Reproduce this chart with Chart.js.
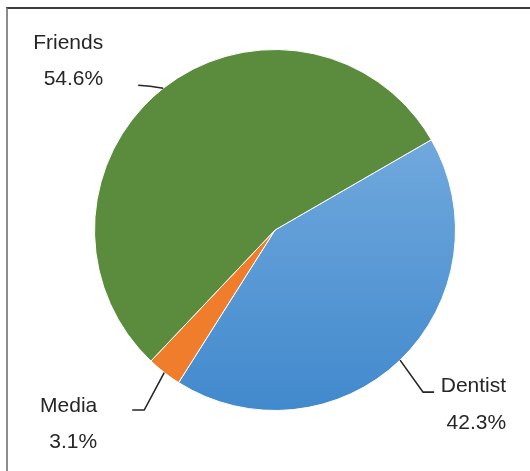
<!DOCTYPE html>
<html>
<head>
<meta charset="utf-8">
<script src="https://cdn.jsdelivr.net/npm/chart.js@4.4.0/dist/chart.umd.min.js"></script>
<style>
  html, body { margin: 0; padding: 0; background: #fff; }
  #wrap { position: relative; width: 530px; height: 471px; overflow: hidden; }
  #frame { position: absolute; left: 6px; top: 7px; width: 540px; height: 480px;
           border-top: 2px solid #3c3c3c; border-left: 2px solid #8c8c8c; box-sizing: border-box; }
  canvas { position: absolute; left: 0; top: 0; }
</style>
</head>
<body>
<div id="wrap">
  <div id="frame"></div>
  <canvas id="myChart" width="530" height="471"></canvas>
</div>
<script>
const labels = ['Dentist', 'Media', 'Friends'];
const shares = [42.3, 3.1, 54.6];
const valueLabels = ['42.3%', '3.1%', '54.6%'];

// leader line elbow/end and text placement, relative to the slice's outer mid point
const callouts = [
  { elbow: [23, 32], end: [34, 32], textRight: 106, base1: 32, base2: 69 },
  { elbow: [-20, 37.5], end: [-32, 37.5], textRight: -67, base1: 39, base2: 75 },
  { elbow: [-13, -2], end: [-25, -3], textRight: -60, base1: -39, base2: -3 },
];

const sliceFill = (context) => {
  if (context.dataIndex === 1) return '#ef7d2c';
  if (context.dataIndex === 2) return '#5b8c3d';
  const chart = context.chart;
  const area = chart.chartArea;
  if (!area) return '#5B9BD5';
  const g = chart.ctx.createLinearGradient(0, area.top, 0, area.bottom);
  g.addColorStop(0, '#80b3e2');
  g.addColorStop(1, '#4189cd');
  return g;
};

const calloutPlugin = {
  id: 'callouts',
  afterDraw(chart) {
    const ctx = chart.ctx;
    const arcs = chart.getDatasetMeta(0).data;
    ctx.save();
    arcs.forEach((arc, i) => {
      const mid = (arc.startAngle + arc.endAngle) / 2;
      const ax = arc.x + Math.cos(mid) * arc.outerRadius;
      const ay = arc.y + Math.sin(mid) * arc.outerRadius;
      const c = callouts[i];
      ctx.strokeStyle = '#262626';
      ctx.lineWidth = 1.6;
      ctx.beginPath();
      ctx.moveTo(ax, ay);
      ctx.lineTo(ax + c.elbow[0], ay + c.elbow[1]);
      ctx.lineTo(ax + c.end[0], ay + c.end[1]);
      ctx.stroke();
      ctx.fillStyle = '#262626';
      ctx.font = '21px "Liberation Sans", Arial, sans-serif';
      ctx.textAlign = 'right';
      ctx.textBaseline = 'alphabetic';
      ctx.fillText(labels[i], ax + c.textRight, ay + c.base1);
      ctx.fillText(valueLabels[i], ax + c.textRight, ay + c.base2);
    });
    ctx.restore();
  }
};

new Chart(document.getElementById('myChart'), {
  type: 'pie',
  data: {
    labels,
    datasets: [{
      data: shares,
      backgroundColor: sliceFill,
      borderColor: '#ffffff',
      borderWidth: 1,
    }]
  },
  options: {
    responsive: false,
    animation: false,
    rotation: 60,
    layout: { padding: { left: 94, right: 74, top: 48, bottom: 59 } },
    plugins: {
      legend: { display: false },
      tooltip: { enabled: false },
    },
  },
  plugins: [calloutPlugin],
});
</script>
</body>
</html>
